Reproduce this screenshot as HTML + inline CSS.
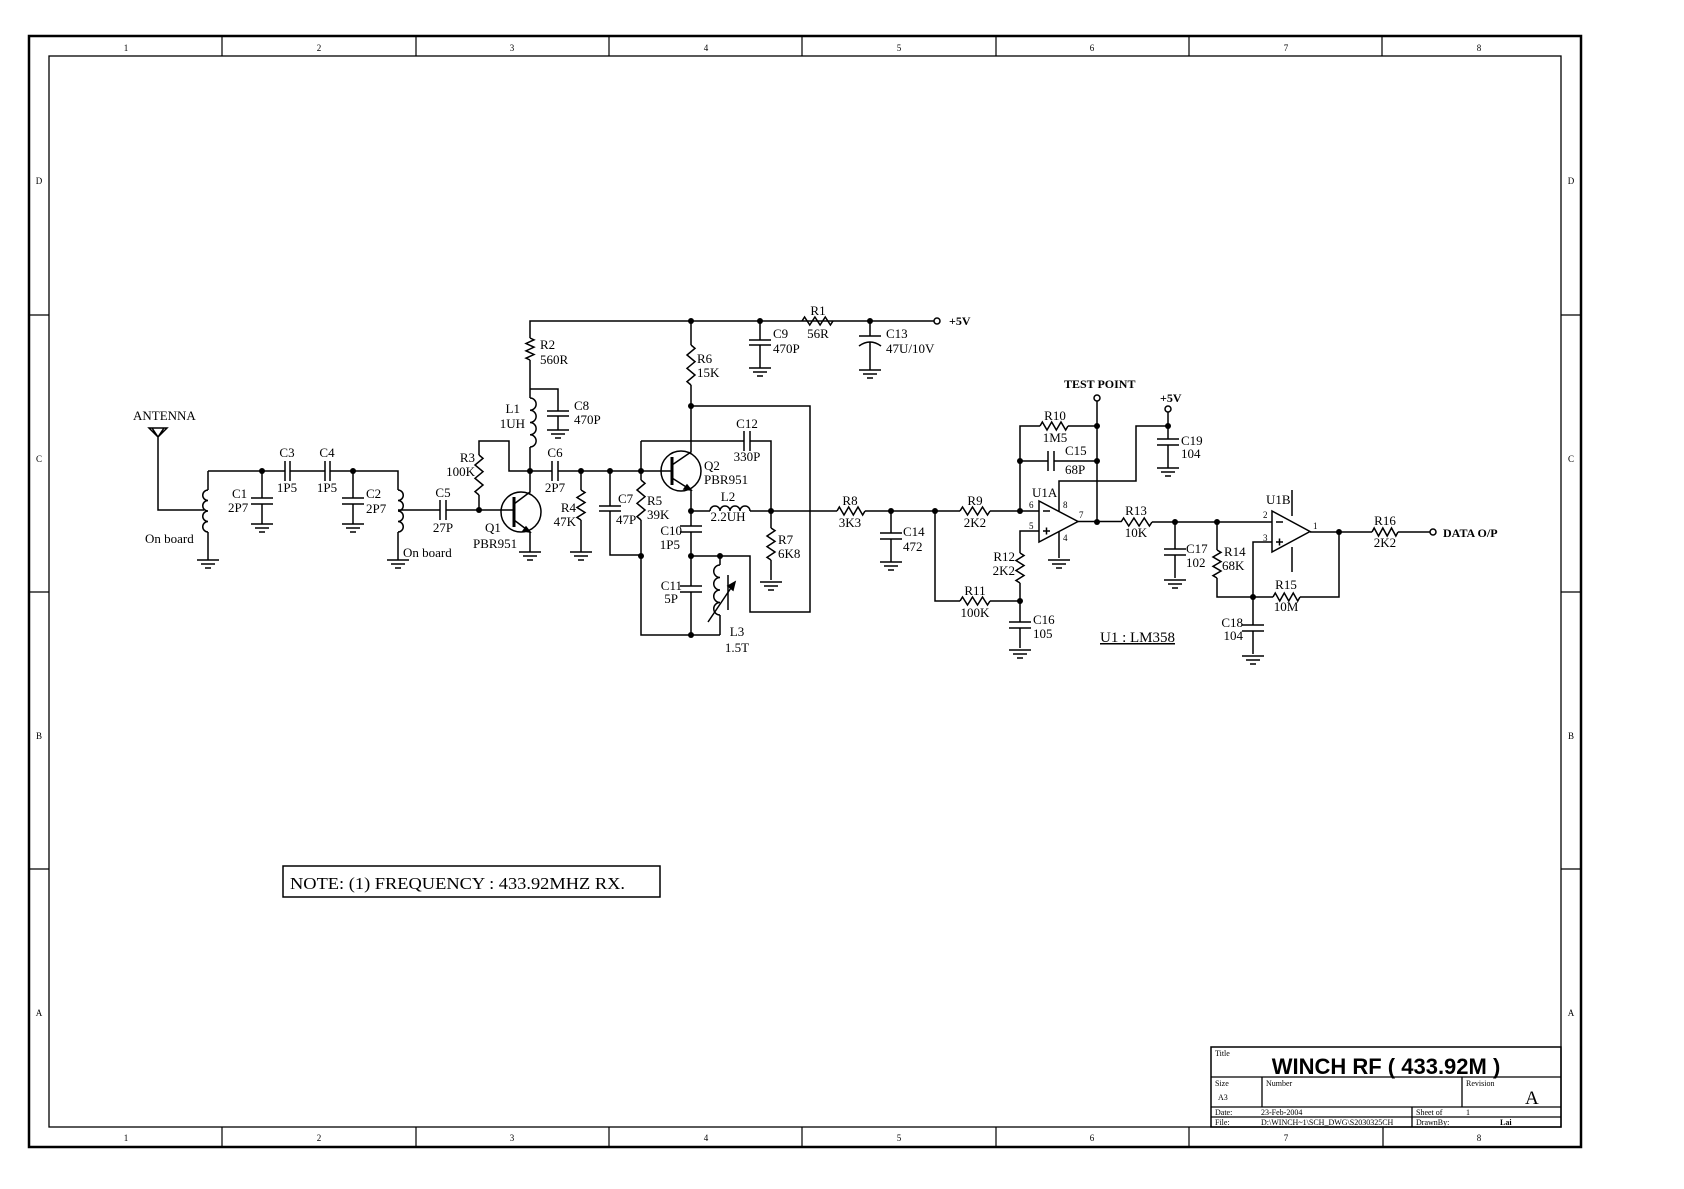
<!DOCTYPE html>
<html><head><meta charset="utf-8"><style>
html,body{margin:0;padding:0;background:#fff}
svg{display:block}
text{font-family:"Liberation Serif",serif;font-size:13px;fill:#000}
.b{font-weight:bold;font-size:12px}
.s{font-size:9px}
.m{text-anchor:middle}
.r{text-anchor:end}
</style></head><body>
<svg id="s" width="1684" height="1189" viewBox="0 0 1684 1189" xmlns="http://www.w3.org/2000/svg">
<g fill="none" stroke="#000">
<rect x="29" y="36" width="1552" height="1111" stroke-width="2.5"/>
<rect x="49" y="56" width="1512" height="1071" stroke-width="1.3"/>
<path stroke-width="1.2" d="M222,36V56M416,36V56M609,36V56M802,36V56M996,36V56M1189,36V56M1382,36V56M222,1127V1147M416,1127V1147M609,1127V1147M802,1127V1147M996,1127V1147M1189,1127V1147M1383,1127V1147M29,315H49M29,592H49M29,869H49M1561,315H1581M1561,592H1581M1561,869H1581"/>
<rect x="1211" y="1047" width="350" height="80" stroke-width="1.5"/>
<path stroke-width="1.3" d="M1211,1077H1561M1211,1107H1561M1211,1117H1561M1262,1077V1107M1462,1077V1107M1412,1107V1127"/>
<rect x="283" y="866" width="377" height="31" stroke-width="1.5"/>
</g>
<g id="c" fill="none" stroke="#000" stroke-width="1.5"></g>
<g id="d"></g>
<g>
<text x="126" y="51" class="s m">1</text><text x="319" y="51" class="s m">2</text><text x="512" y="51" class="s m">3</text><text x="706" y="51" class="s m">4</text><text x="899" y="51" class="s m">5</text><text x="1092" y="51" class="s m">6</text><text x="1286" y="51" class="s m">7</text><text x="1479" y="51" class="s m">8</text>
<text x="126" y="1141" class="s m">1</text><text x="319" y="1141" class="s m">2</text><text x="512" y="1141" class="s m">3</text><text x="706" y="1141" class="s m">4</text><text x="899" y="1141" class="s m">5</text><text x="1092" y="1141" class="s m">6</text><text x="1286" y="1141" class="s m">7</text><text x="1479" y="1141" class="s m">8</text>
<text x="39" y="184" class="s m">D</text><text x="39" y="462" class="s m">C</text><text x="39" y="739" class="s m">B</text><text x="39" y="1016" class="s m">A</text>
<text x="1571" y="184" class="s m">D</text><text x="1571" y="462" class="s m">C</text><text x="1571" y="739" class="s m">B</text><text x="1571" y="1016" class="s m">A</text>
<text x="1215" y="1056" style="font-size:8px">Title</text>
<text x="1386" y="1074" class="m" style="font-family:'Liberation Sans',sans-serif;font-weight:bold;font-size:22px">WINCH RF ( 433.92M )</text>
<text x="1215" y="1086" style="font-size:8px">Size</text><text x="1218" y="1100" style="font-size:8px">A3</text>
<text x="1266" y="1086" style="font-size:8px">Number</text>
<text x="1466" y="1086" style="font-size:8px">Revision</text>
<text x="1525" y="1104" style="font-size:19px">A</text>
<text x="1215" y="1115" style="font-size:8px">Date:</text><text x="1261" y="1115" style="font-size:8px">23-Feb-2004</text>
<text x="1416" y="1115" style="font-size:8px">Sheet  of</text><text x="1466" y="1115" style="font-size:8px">1</text>
<text x="1215" y="1125" style="font-size:8px">File:</text><text x="1261" y="1125" style="font-size:8px">D:\WINCH~1\SCH_DWG\S2030325CH</text>
<text x="1416" y="1125" style="font-size:8px">DrawnBy:</text><text x="1500" y="1125" style="font-size:8px;font-weight:bold">Lai</text>
<text x="290" y="889" style="font-size:17px" textLength="335" lengthAdjust="spacingAndGlyphs">NOTE:   (1) FREQUENCY : 433.92MHZ RX.</text>

<text x="133" y="420">ANTENNA</text>
<text x="145" y="543">On board</text>
<text x="403" y="557">On board</text>
<text x="287" y="457" class="m">C3</text><text x="287" y="492" class="m">1P5</text>
<text x="327" y="457" class="m">C4</text><text x="327" y="492" class="m">1P5</text>
<text x="232" y="498">C1</text><text x="228" y="512">2P7</text>
<text x="366" y="498">C2</text><text x="366" y="513">2P7</text>
<text x="443" y="497" class="m">C5</text><text x="443" y="532" class="m">27P</text>
<text x="475" y="462" class="r">R3</text><text x="475" y="476" class="r">100K</text>
<text x="485" y="532">Q1</text><text x="473" y="548">PBR951</text>
<text x="520" y="413" class="r">L1</text><text x="525" y="428" class="r">1UH</text>
<text x="574" y="410">C8</text><text x="574" y="424">470P</text>
<text x="555" y="457" class="m">C6</text><text x="555" y="492" class="m">2P7</text>
<text x="576" y="512" class="r">R4</text><text x="576" y="526" class="r">47K</text>
<text x="618" y="503">C7</text><text x="616" y="524">47P</text>
<text x="540" y="349">R2</text><text x="540" y="364">560R</text>
<text x="697" y="363">R6</text><text x="697" y="377">15K</text>
<text x="773" y="338">C9</text><text x="773" y="353">470P</text>
<text x="818" y="315" class="m">R1</text><text x="818" y="338" class="m">56R</text>
<text x="886" y="338">C13</text><text x="886" y="353">47U/10V</text>
<text x="949" y="325" class="b">+5V</text>
<text x="747" y="428" class="m">C12</text><text x="747" y="461" class="m">330P</text>
<text x="704" y="470">Q2</text><text x="704" y="484">PBR951</text>
<text x="647" y="505">R5</text><text x="647" y="519">39K</text>
<text x="728" y="501" class="m">L2</text><text x="728" y="521" class="m">2.2UH</text>
<text x="778" y="544">R7</text><text x="778" y="558">6K8</text>
<text x="682" y="535" class="r">C10</text><text x="680" y="549" class="r">1P5</text>
<text x="682" y="590" class="r">C11</text><text x="678" y="603" class="r">5P</text>
<text x="737" y="636" class="m">L3</text><text x="737" y="652" class="m">1.5T</text>
<text x="850" y="505" class="m">R8</text><text x="850" y="527" class="m">3K3</text>
<text x="903" y="536">C14</text><text x="903" y="551">472</text>
<text x="975" y="505" class="m">R9</text><text x="975" y="527" class="m">2K2</text>
<text x="975" y="595" class="m">R11</text><text x="975" y="617" class="m">100K</text>
<text x="1015" y="561" class="r">R12</text><text x="1015" y="575" class="r">2K2</text>
<text x="1033" y="624">C16</text><text x="1033" y="638">105</text>
<text x="1032" y="497">U1A</text>
<text x="1029" y="508" class="s">6</text><text x="1029" y="529" class="s">5</text><text x="1063" y="508" class="s">8</text><text x="1063" y="541" class="s">4</text><text x="1079" y="518" class="s">7</text>
<text x="1055" y="420" class="m">R10</text><text x="1055" y="442" class="m">1M5</text>
<text x="1065" y="455">C15</text><text x="1065" y="474">68P</text>
<text x="1064" y="388" class="b">TEST POINT</text>
<text x="1160" y="402" class="b">+5V</text>
<text x="1181" y="445">C19</text><text x="1181" y="458">104</text>
<text x="1136" y="515" class="m">R13</text><text x="1136" y="537" class="m">10K</text>
<text x="1186" y="553">C17</text><text x="1186" y="567">102</text>
<text x="1224" y="556">R14</text><text x="1222" y="570">68K</text>
<text x="1266" y="504">U1B</text>
<text x="1263" y="518" class="s">2</text><text x="1263" y="541" class="s">3</text><text x="1313" y="529" class="s">1</text>
<text x="1286" y="589" class="m">R15</text><text x="1286" y="611" class="m">10M</text>
<text x="1243" y="627" class="r">C18</text><text x="1243" y="640" class="r">104</text>
<text x="1385" y="525" class="m">R16</text><text x="1385" y="547" class="m">2K2</text>
<text x="1443" y="537" class="b">DATA O/P</text>
<text x="1100" y="642" style="font-size:15px;text-decoration:underline">U1 : LM358</text>
</g>
</svg>
<script>
var P=[];
function w(d){P.push('<path d="'+d+'"/>');}
function rh(x1,x2,y){var n=6,s=(x2-x1)/n,d='M'+x1+','+y;for(var i=0;i<n;i++){d+=' L'+(x1+s*(i+0.5))+','+(y+(i%2?4:-4));}d+=' L'+x2+','+y;w(d);}
function rv(x,y1,y2){var n=6,s=(y2-y1)/n,d='M'+x+','+y1;for(var i=0;i<n;i++){d+=' L'+(x+(i%2?-4:4))+','+(y1+s*(i+0.5));}d+=' L'+x+','+y2;w(d);}
function cv(x,y1,y2){w('M'+(x-11)+','+y1+'H'+(x+11)+'M'+(x-11)+','+y2+'H'+(x+11));}
function ch(x1,x2,y){w('M'+x1+','+(y-10)+'V'+(y+10)+'M'+x2+','+(y-10)+'V'+(y+10));}
function gnd(x,y){w('M'+(x-11)+','+y+'H'+(x+11)+'M'+(x-7)+','+(y+4)+'H'+(x+7)+'M'+(x-3)+','+(y+8)+'H'+(x+3));}
function lv(x,y1,y2,side){var n=4,s=(y2-y1)/n,d='M'+x+','+y1;for(var i=0;i<n;i++){d+=' a'+(s/2)+','+(s/2)+' 0 0 '+(side>0?1:0)+' 0,'+s;}w(d);}
function lh(x1,x2,y){var n=4,s=(x2-x1)/n,d='M'+x1+','+y;for(var i=0;i<n;i++){d+=' a'+(s/2)+','+(s/2)+' 0 0 1 '+s+',0';}w(d);}
var D=[];function dot(x,y){D.push('<circle cx="'+x+'" cy="'+y+'" r="3"/>');}
function oc(x,y){P.push('<circle cx="'+x+'" cy="'+y+'" r="3" fill="#fff"/>');}
w('M149,428H167L158,437ZM152,428L158,437L164,428M158,437V510H204');
w('M208,471V490');lv(208,490,532,-1);w('M208,532V560');gnd(208,560);
w('M208,471H285');ch(285,290,471);w('M290,471H325');ch(325,330,471);w('M330,471H398V490');
w('M262,471V498');cv(262,498,504);w('M262,504V524');gnd(262,524);
w('M353,471V498');cv(353,498,504);w('M353,504V524');gnd(353,524);
lv(398,490,532,1);w('M398,532V560');gnd(398,560);
w('M398,510H440');ch(440,446,510);w('M446,510H479');
w('M479,510V495');rv(479,455,495);w('M479,455V441H509V471H530');
P.push('<circle cx="521" cy="512" r="20"/>');
w('M479,510H514');P.push('<path d="M514,497V527" stroke-width="3"/>');
w('M514,504L530,492V471M514,520L530,532V552');P.push('<path d="M530,532l-7,-1l3,-4z" fill="#000"/>');gnd(530,552);
w('M530,471V447');lv(530,398,447,1);w('M530,398V360');rv(530,338,360);w('M530,338V321H934');oc(937,321);
w('M530,389H558V411');cv(558,411,416);w('M558,416V430');gnd(558,430);
w('M530,471H552');ch(552,558,471);w('M558,471H641');
w('M581,471V490');rv(581,490,520);w('M581,520V552');gnd(581,552);
w('M610,471V506');cv(610,506,511);w('M610,511V555H641');
w('M641,441V480');rv(641,480,520);w('M641,520V635H720');
P.push('<circle cx="681" cy="471" r="20"/>');
w('M641,471H672');P.push('<path d="M672,457V485" stroke-width="3"/>');
w('M672,465L691,452V385M672,478L691,490V511');P.push('<path d="M691,490l-7,-1l3,-4z" fill="#000"/>');
rv(691,345,385);w('M691,345V321');
w('M641,441H744');ch(744,750,441);w('M750,441H771V511');
w('M691,406H810V612H750V556H691');
w('M691,511H710');lh(710,750,511);w('M750,511H837');
w('M771,511V528');rv(771,528,560);w('M771,560V580');gnd(771,582);
w('M691,511V526');cv(691,526,532);w('M691,532V586');cv(691,586,592);w('M691,592V635');
w('M720,556V565');lv(720,565,615,-1);w('M720,615V635');w('M708,622L735,582');P.push('<path d="M735,582l-2,8l-5,-4z" fill="#000"/>');w('M728,575V610');
w('M760,321V340');cv(760,340,345);w('M760,345V368');gnd(760,368);
rh(802,833,321);
w('M870,321V336M859,336H881M859,346Q870,338 881,346M870,342V370');gnd(870,370);
rh(837,865,511);w('M865,511H935');
w('M891,511V533');cv(891,533,539);w('M891,539V562');gnd(891,562);
w('M935,511H960');rh(960,990,511);w('M990,511H1039');
w('M935,511V601H960');rh(960,990,601);w('M990,601H1020');
w('M1039,501V542L1078,521.5Z');
w('M1043,511h7M1043,531h7M1046.5,527.5v7');
w('M1020,511V426H1040');rh(1040,1068,426);w('M1068,426H1097');
w('M1020,461H1048');ch(1048,1054,461);w('M1054,461H1097');
w('M1097,401V522');oc(1097,398);
w('M1078,521.5H1121');rh(1121,1152,522);w('M1152,522H1272');
w('M1059,511V481H1136V426H1168V412');oc(1168,409);
w('M1168,426V439');cv(1168,439,445);w('M1168,445V468');gnd(1168,468);
w('M1059,532V558');gnd(1059,560);
w('M1039,531H1020V553');rv(1020,553,583);w('M1020,583V622');cv(1020,622,628);w('M1020,628V648');gnd(1020,650);
w('M1175,522V549');cv(1175,549,555);w('M1175,555V578');gnd(1175,580);
w('M1217,522V550');rv(1217,550,578);w('M1217,578V597H1273');rh(1273,1300,597);w('M1300,597H1339V532');
w('M1272,511V552L1310,531.5Z');
w('M1276,522h7M1276,542h7M1279.5,538.5v7');
w('M1272,542H1253V597V625');cv(1253,625,631);w('M1253,631V654');gnd(1253,656);
w('M1292,490V516M1292,547V572');
w('M1310,532H1372');rh(1372,1398,532);w('M1398,532H1430');oc(1433,532);
[[262,471],[353,471],[479,510],[530,471],[581,471],[610,471],[641,471],[641,556],[691,321],[760,321],[870,321],[691,406],[691,511],[771,511],[691,556],[720,556],[691,635],[891,511],[935,511],[1020,511],[1020,601],[1020,461],[1097,426],[1097,461],[1097,522],[1168,426],[1175,522],[1217,522],[1253,597],[1339,532]].forEach(function(p){dot(p[0],p[1]);});
document.getElementById('c').innerHTML=P.join('');
document.getElementById('d').innerHTML=D.join('');
</script>
</body></html>
